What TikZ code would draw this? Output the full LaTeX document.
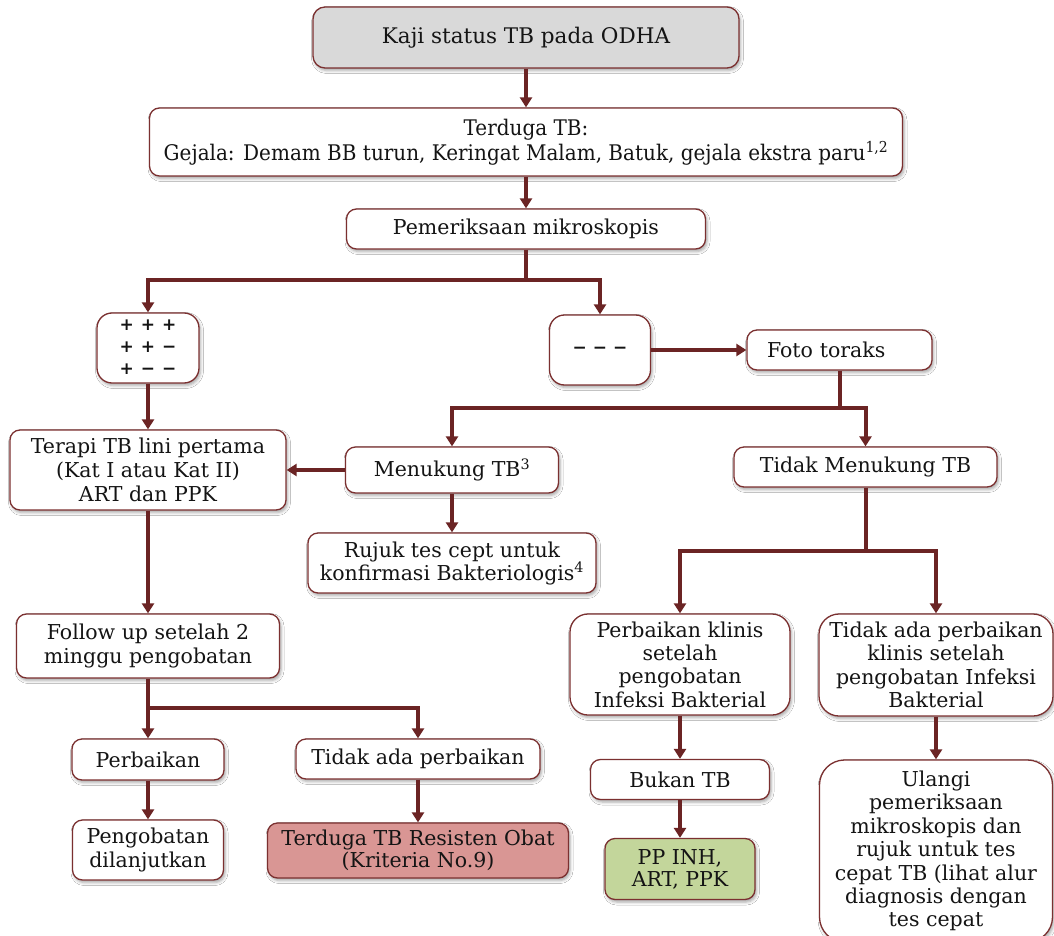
\documentclass[tikz,border=0pt]{standalone}
\usepackage{fontspec}
\usepackage{graphicx}
\setmainfont{DejaVu Serif}
\newfontfamily\condserif[FakeStretch=0.93]{DejaVu Serif}
\newfontfamily\symfont{DejaVu Sans}
\usetikzlibrary{arrows.meta,shadows.blur}

\definecolor{linecol}{HTML}{6B2424}
\definecolor{edgecol}{HTML}{7B3030}
\definecolor{greyfill}{HTML}{D9D9D9}
\definecolor{redfill}{HTML}{D99694}
\definecolor{greenfill}{HTML}{C3D69B}

\tikzset{
  box/.style={draw=edgecol, line width=1.3pt, fill=white, rounded corners=10pt,
    align=center, inner sep=0pt, text=black!92,
    font=\fontsize{20.5}{24}\selectfont,
    blur shadow={shadow xshift=1.5pt, shadow yshift=-2.5pt,
      shadow blur radius=3pt, shadow opacity=35}},
  conn/.style={draw=linecol, line width=4pt, -{Triangle[length=10pt,width=12pt]}},
  link/.style={draw=linecol, line width=4pt},
  sz/.style 2 args={minimum width=#1pt, minimum height=#2pt},
}

\begin{document}
\begin{tikzpicture}[x=1pt,y=-1pt]
  \clip (0,0) rectangle (1054,936);
  \fill[white] (0,0) rectangle (1054,936);

  % top of the flow
  \node[box, sz={426}{61}, fill=greyfill, rounded corners=12pt, font=\fontsize{21.5}{25}\selectfont] (kaji) at (526,37.5)
    {Kaji status TB pada ODHA};
  \node[box, sz={753}{68}, font=\condserif\fontsize{21.5}{25}\selectfont] (terduga) at (526,142)
    {Terduga TB:\\Gejala: Demam BB turun, Keringat Malam, Batuk, gejala ekstra paru\textsuperscript{1,2}};
  \node[box, sz={359}{40}] (pem) at (526,229) {Pemeriksaan mikroskopis};

  % smear results
  \node[box, sz={102}{70}, rounded corners=15pt, font=\symfont\bfseries\fontsize{17}{22}\selectfont] (plus) at (148,348)
    {\begin{tabular}{@{}c@{\hspace{7pt}}c@{\hspace{7pt}}c@{}}+ & + & +\\+ & + & −\\+ & − & −\end{tabular}};
  \node[box, sz={101}{70}, rounded corners=15pt, font=\symfont\bfseries\fontsize{17}{22}\selectfont] (minus) at (600,350)
    {− − −};
  \node[box, sz={185}{40}, text width=145pt, align=left, inner xsep=20pt] (foto) at (839.5,350)
    {Foto toraks};

  % left branch
  \node[box, sz={276}{80}] (terapi) at (148,470)
    {Terapi TB lini pertama\\(Kat I atau Kat II)\\ART dan PPK};
  \node[box, sz={213}{46}] (menukung) at (452,470) {Menukung TB\textsuperscript{3}};
  \node[box, sz={288}{60}, font=\fontsize{20.5}{23}\selectfont] (rujuk) at (452,563)
    {Rujuk tes cept untuk\\konfirmasi Bakteriologis\textsuperscript{4}};
  \node[box, sz={263}{40}] (tidakmen) at (865.5,467) {Tidak Menukung TB};
  \node[box, sz={263}{64}] (follow) at (148,646)
    {Follow up setelah 2\\minggu pengobatan};
  \node[box, sz={152}{41}] (perbaikan) at (148,759.5) {Perbaikan};
  \node[box, sz={244}{40}] (tidakada) at (418,759) {Tidak ada perbaikan};
  \node[box, sz={151}{60}] (lanjut) at (148,850) {Pengobatan\\dilanjutkan};
  \node[box, sz={301}{55}, fill=redfill, font=\fontsize{20.5}{22}\selectfont] (resisten) at (418,850.5)
    {Terduga TB Resisten Obat\\(Kriteria No.9)};

  % right branch
  \node[box, sz={220}{101}, rounded corners=18pt, font=\fontsize{20.5}{23.3}\selectfont] (klinis) at (680,664.5)
    {Perbaikan klinis\\setelah\\pengobatan\\Infeksi Bakterial};
  \node[box, sz={234}{102}, rounded corners=20pt, font=\fontsize{20.5}{23.3}\selectfont] (tidakklinis) at (936,665)
    {Tidak ada perbaikan\\klinis setelah\\pengobatan Infeksi\\Bakterial};
  \node[box, sz={179}{40}] (bukan) at (680,779.5) {Bukan TB};
  \node[box, sz={150}{61}, fill=greenfill, font=\fontsize{20.5}{22}\selectfont] (ppinh) at (680,869)
    {PP INH,\\ART, PPK};
  \node[box, sz={233}{182}, rounded corners=25pt, font=\fontsize{20.5}{23.4}\selectfont] (ulangi) at (936,851)
    {Ulangi\\pemeriksaan\\mikroskopis dan\\rujuk untuk tes\\cepat TB (lihat alur\\diagnosis dengan\\tes cepat};

  % junction points
  \coordinate (jpem) at (526,280);
  \coordinate (jfoto) at (839.5,408);
  \coordinate (jfollow) at (148,708);
  \coordinate (jtm) at (865.5,551);

  % connectors
  \draw[conn] (kaji.south) -- (terduga.north);
  \draw[conn] (terduga.south) -- (pem.north);
  \draw[link] (pem.south) -- (jpem);
  \draw[conn] (jpem) -| (plus.north);
  \draw[conn] (jpem) -| (minus.north);
  \draw[conn] (plus.south) -- (terapi.north);
  \draw[conn] (minus.east) -- (foto.west);
  \draw[link] (foto.south) -- (jfoto);
  \draw[conn] (jfoto) -| (menukung.north);
  \draw[conn] (jfoto) -| (tidakmen.north);
  \draw[conn] (menukung.west) -- (terapi.east);
  \draw[conn] (menukung.south) -- (rujuk.north);
  \draw[conn] (terapi.south) -- (follow.north);
  \draw[conn] (follow.south) -- (perbaikan.north);
  \draw[conn] (jfollow) -| (tidakada.north);
  \draw[conn] (perbaikan.south) -- (lanjut.north);
  \draw[conn] (tidakada.south) -- (resisten.north);
  \draw[link] (tidakmen.south) -- (jtm);
  \draw[conn] (jtm) -| (klinis.north);
  \draw[conn] (jtm) -| (tidakklinis.north);
  \draw[conn] (klinis.south) -- (bukan.north);
  \draw[conn] (bukan.south) -- (ppinh.north);
  \draw[conn] (tidakklinis.south) -- (ulangi.north);
\end{tikzpicture}
\end{document}
